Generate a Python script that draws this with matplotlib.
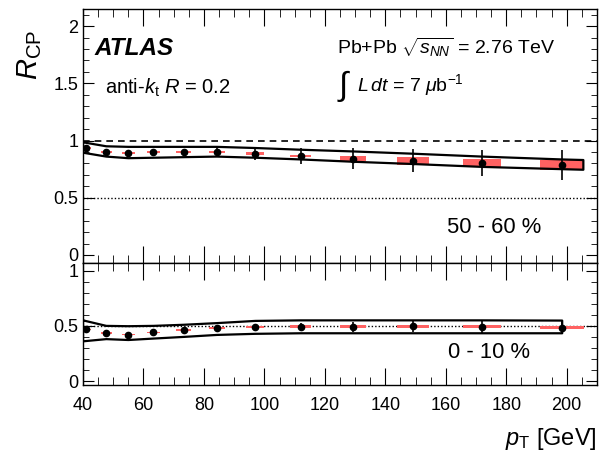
import numpy as np
import matplotlib
matplotlib.use("Agg")
import matplotlib.pyplot as plt
from matplotlib.patches import Rectangle
from matplotlib.ticker import MultipleLocator

plt.rcParams['font.family'] = ['Liberation Sans', 'DejaVu Sans']
plt.rcParams['mathtext.fontset'] = 'custom'
plt.rcParams['mathtext.rm'] = 'Liberation Sans'
plt.rcParams['mathtext.it'] = 'Liberation Sans:italic'
plt.rcParams['mathtext.bf'] = 'Liberation Sans:bold'

# jet pT bin centres [GeV]
pt = [41.0, 47.7, 55.0, 63.3, 73.3, 84.3, 97.0, 112.0, 129.3, 149.3, 172.0, 198.5]
# half widths of the systematic boxes
sys_w = [1.6, 1.8, 2.2, 2.2, 2.5, 2.5, 3.0, 3.5, 4.3, 5.3, 6.2, 7.2]

# 50-60 % / 60-80 %
rcp_per = [0.937, 0.903, 0.894, 0.900, 0.900, 0.900, 0.886, 0.865, 0.843, 0.822, 0.803, 0.786]
stat_per = [0.02, 0.02, 0.02, 0.025, 0.03, 0.04, 0.057, 0.067, 0.093, 0.10, 0.114, 0.13]
sys_per = [0.008, 0.008, 0.010, 0.010, 0.010, 0.010, 0.012, 0.012, 0.019, 0.032, 0.036, 0.046]
band_pt_per = [40, 47.7, 55, 63.3, 73.3, 84.3, 97, 112, 129.3, 149.3, 172, 198.5, 205.5]
band_hi_per = [0.985, 0.950, 0.945, 0.945, 0.945, 0.945, 0.935, 0.920, 0.905, 0.885, 0.860, 0.835, 0.830]
band_lo_per = [0.894, 0.860, 0.846, 0.850, 0.855, 0.860, 0.850, 0.835, 0.815, 0.795, 0.770, 0.750, 0.745]

# 0-10 % / 60-80 %
rcp_cen = [0.470, 0.435, 0.420, 0.440, 0.460, 0.480, 0.492, 0.492, 0.492, 0.497, 0.492, 0.485]
stat_cen = [0.012, 0.012, 0.012, 0.012, 0.015, 0.018, 0.025, 0.036, 0.044, 0.050, 0.054, 0.060]
sys_cen = [0.006, 0.006, 0.007, 0.007, 0.008, 0.010, 0.010, 0.012, 0.012, 0.012, 0.013, 0.015]
band_pt_cen = [40, 47.7, 55, 63.3, 73.3, 84.3, 97, 112, 129.3, 149.3, 172, 198.5]
band_hi_cen = [0.550, 0.500, 0.497, 0.500, 0.510, 0.525, 0.545, 0.550, 0.550, 0.550, 0.550, 0.548]
band_lo_cen = [0.360, 0.380, 0.372, 0.385, 0.400, 0.418, 0.428, 0.433, 0.433, 0.433, 0.433, 0.433]

red = '#ff6262'

fig = plt.figure(figsize=(5.99, 4.61), dpi=100)
ax1 = fig.add_axes([0.1386, 0.4295, 0.858, 0.551])
ax2 = fig.add_axes([0.1386, 0.165, 0.858, 0.2646])


def draw_panel(ax, y, stat, sys, bpt, bhi, blo):
    for x, w, v, s in zip(pt, sys_w, y, sys):
        ax.add_patch(Rectangle((x - w, v - s), 2 * w, 2 * s, color=red, lw=0, zorder=2))
    # band outline, closed at both ends
    bx = list(bpt) + list(bpt[::-1]) + [bpt[0]]
    by = list(bhi) + list(blo[::-1]) + [bhi[0]]
    ax.plot(bx, by, color='black', lw=1.6, zorder=3)
    ax.errorbar(pt, y, yerr=stat, fmt='o', color='black', ms=4.5, elinewidth=1.2,
                capsize=0, zorder=4)


draw_panel(ax1, rcp_per, stat_per, sys_per, band_pt_per, band_hi_per, band_lo_per)
draw_panel(ax2, rcp_cen, stat_cen, sys_cen, band_pt_cen, band_hi_cen, band_lo_cen)

ax1.axhline(1.0, color='black', ls=(0, (4, 3)), lw=1.2, zorder=1)
ax1.axhline(0.5, color='black', ls=(0, (1, 1.5)), lw=1.0, zorder=1)
ax2.axhline(0.5, color='black', ls=(0, (1, 1.5)), lw=1.0, zorder=1)

ax1.set_ylim(-0.07, 2.15)
ax2.set_ylim(-0.035, 1.07)
for ax in (ax1, ax2):
    ax.set_xlim(40, 210)
    ax.xaxis.set_major_locator(MultipleLocator(20))
    ax.xaxis.set_minor_locator(MultipleLocator(5))
    ax.yaxis.set_major_locator(MultipleLocator(0.5))
    ax.yaxis.set_minor_locator(MultipleLocator(0.1))
    ax.tick_params(which='both', direction='in', top=True, right=True, labelsize=13)
    ax.tick_params(which='major', axis='x', length=12)
    ax.tick_params(which='minor', axis='x', length=6)
    ax.tick_params(which='major', axis='y', length=8)
    ax.tick_params(which='minor', axis='y', length=4)
    for sp in ax.spines.values():
        sp.set_linewidth(1.0)
ax1.tick_params(labelbottom=False)
ax1.set_yticks([0, 0.5, 1, 1.5, 2], ['0', '0.5', '1', '1.5', '2'])
ax2.set_yticks([0, 0.5, 1], ['0', '0.5', '1'])
ax2.tick_params(axis='x', pad=9)

ax1.text(0.023, 0.82, 'ATLAS', transform=ax1.transAxes, fontsize=17.5,
         fontweight='bold', fontstyle='italic')
ax1.text(0.043, 0.69, r'anti-$k_{\mathrm{t}}$ $R$ = 0.2', transform=ax1.transAxes,
         fontsize=14.5, va='center')
ax1.text(0.494, 0.85, r'Pb+Pb $\sqrt{s_{NN}}$ = 2.76 TeV', transform=ax1.transAxes,
         fontsize=14, va='center')
ax1.text(0.494, 0.695, r'$\int$', transform=ax1.transAxes, fontsize=24, va='center')
ax1.text(0.533, 0.70, r'$L\,dt$ = 7 $\mu$b$^{\mathrm{-1}}$', transform=ax1.transAxes,
         fontsize=14, va='center')
ax1.text(0.80, 0.138, '50 - 60 %', transform=ax1.transAxes, fontsize=15.8,
         ha='center', va='center')
ax2.text(0.79, 0.27, '0 - 10 %', transform=ax2.transAxes, fontsize=15.8,
         ha='center', va='center')

fig.text(0.05, 0.935, r'$R_{\mathrm{CP}}$', rotation=90, ha='center', va='top', fontsize=21)
fig.text(0.997, 0.02, r'$p_{\mathrm{T}}$ [GeV]', ha='right', va='bottom', fontsize=17)

fig.savefig('out.png', dpi=100)
